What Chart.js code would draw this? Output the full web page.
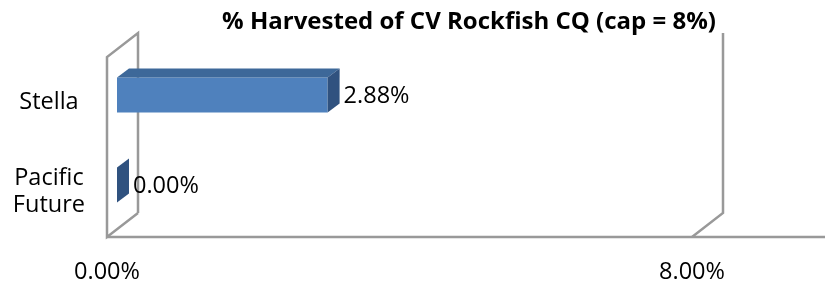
<!DOCTYPE html>
<html><head><meta charset="utf-8">
<script src="https://cdn.jsdelivr.net/npm/chart.js@4"></script>
<style>html,body{margin:0;padding:0;background:#fff;}#wrap{width:825px;height:283px;}</style>
</head><body><div id="wrap"><canvas id="c" width="825" height="283"></canvas></div>
<script>
const categories = ['Stella', 'Pacific Future'];
const harvestedPct = [2.88, 0.00];
const xTickValues = [0, 8];
const xMin = 0, xMax = 8;
const titleText = '% Harvested of CV Rockfish CQ (cap = 8%)';

const FONT = "'Open Sans', 'Noto Sans', sans-serif";
const TXT = 23.5;
const WALL = {dx: 31, dy: -24, color: '#999999', width: 2.5};
const BAR_SHIFT = {dx: 10, dy: -7};
const BAR_DEPTH = {dx: 12, dy: -9};

const excel3d = {
  id: 'excel3d',
  beforeDatasetsDraw(chart) {
    const ctx = chart.ctx, xs = chart.scales.x, a = chart.chartArea;
    const L = xs.getPixelForValue(xMin), R = xs.getPixelForValue(xMax);
    const T = a.top, B = a.bottom;
    ctx.save();
    ctx.strokeStyle = WALL.color; ctx.lineWidth = WALL.width; ctx.lineCap = 'butt'; ctx.lineJoin = 'miter';
    ctx.beginPath();
    ctx.moveTo(L + WALL.dx, B + WALL.dy); ctx.lineTo(L, B); ctx.lineTo(L, T);
    ctx.lineTo(L + WALL.dx, T + WALL.dy); ctx.lineTo(L + WALL.dx, B + WALL.dy);
    ctx.stroke();
    ctx.beginPath();
    ctx.moveTo(R + WALL.dx, T + WALL.dy); ctx.lineTo(R + WALL.dx, B + WALL.dy); ctx.lineTo(R, B);
    ctx.stroke();
    ctx.beginPath();
    ctx.moveTo(L, B); ctx.lineTo(chart.width, B);
    ctx.stroke();
    ctx.restore();
    ctx.save();
    ctx.translate(BAR_SHIFT.dx, BAR_SHIFT.dy);
  },
  afterDatasetsDraw(chart) {
    const ctx = chart.ctx;
    const meta = chart.getDatasetMeta(0);
    meta.data.forEach((bar) => {
      const p = bar.getProps(['x', 'y', 'base', 'height'], true);
      const top = p.y - p.height / 2, bot = p.y + p.height / 2;
      const x0 = Math.min(p.base, p.x), x1 = Math.max(p.base, p.x);
      if (x1 - x0 > 0.5) {
        ctx.fillStyle = '#3D6899';
        ctx.beginPath();
        ctx.moveTo(x0, top); ctx.lineTo(x0 + BAR_DEPTH.dx, top + BAR_DEPTH.dy);
        ctx.lineTo(x1 + BAR_DEPTH.dx, top + BAR_DEPTH.dy); ctx.lineTo(x1, top);
        ctx.closePath(); ctx.fill();
      }
      ctx.fillStyle = '#30527F';
      ctx.beginPath();
      ctx.moveTo(x1, top); ctx.lineTo(x1 + BAR_DEPTH.dx, top + BAR_DEPTH.dy);
      ctx.lineTo(x1 + BAR_DEPTH.dx, bot + BAR_DEPTH.dy); ctx.lineTo(x1, bot);
      ctx.closePath(); ctx.fill();
    });
    ctx.restore();
    ctx.save();
    ctx.font = TXT + 'px ' + FONT;
    ctx.fillStyle = '#000';
    ctx.textAlign = 'left'; ctx.textBaseline = 'middle';
    meta.data.forEach((bar, i) => {
      const p = bar.getProps(['x', 'y'], true);
      ctx.fillText(harvestedPct[i].toFixed(2) + '%', p.x + BAR_SHIFT.dx + BAR_DEPTH.dx + 4, p.y + BAR_SHIFT.dy + 1);
    });
    ctx.restore();
  },
  afterDraw(chart) {
    const ctx = chart.ctx;
    ctx.save();
    ctx.font = 'bold 24px ' + FONT;
    ctx.fillStyle = '#000';
    ctx.textAlign = 'center'; ctx.textBaseline = 'alphabetic';
    ctx.fillText(titleText, 469, 29);
    ctx.restore();
  }
};

new Chart(document.getElementById('c'), {
  type: 'bar',
  data: {
    labels: categories,
    datasets: [{
      data: harvestedPct,
      backgroundColor: '#4F81BD',
      borderWidth: 0,
      barPercentage: 0.39,
      categoryPercentage: 1,
      clip: false
    }]
  },
  options: {
    indexAxis: 'y',
    responsive: false,
    animation: false,
    devicePixelRatio: 1,
    layout: {padding: {left: 0, top: 57, right: 133, bottom: 0}},
    plugins: {legend: {display: false}, tooltip: {enabled: false}, title: {display: false}},
    scales: {
      x: {
        type: 'linear', min: xMin, max: xMax,
        afterBuildTicks: (s) => { s.ticks = xTickValues.map(v => ({value: v})); },
        afterFit: (s) => { s.height = 46; },
        grid: {display: false, drawTicks: false},
        border: {display: false},
        ticks: {
          autoSkip: false, maxRotation: 0, padding: 21,
          color: '#000', font: {family: FONT, size: TXT},
          callback: (v) => Number(v).toFixed(2) + '%'
        }
      },
      y: {
        type: 'category',
        afterFit: (s) => { s.width = 107; },
        grid: {display: false, drawTicks: false},
        border: {display: false},
        ticks: {
          crossAlign: 'center', padding: 22,
          color: '#000', font: {family: FONT, size: TXT, lineHeight: 1.13},
          callback: (v, i) => categories[i].split(' ')
        }
      }
    }
  },
  plugins: [excel3d]
});
</script>
</body></html>
